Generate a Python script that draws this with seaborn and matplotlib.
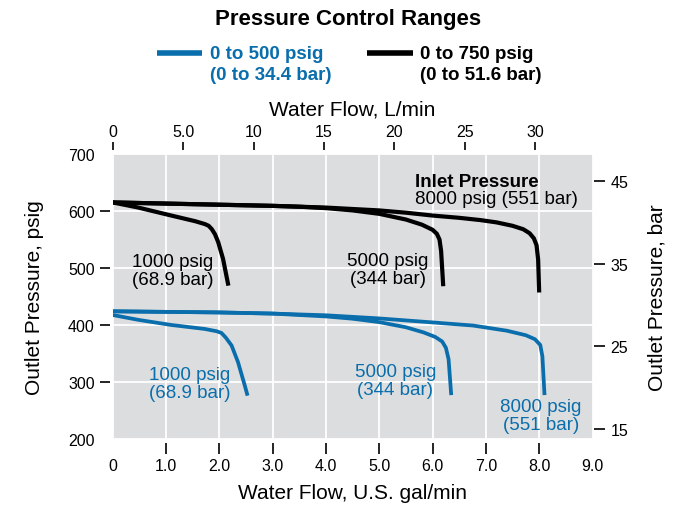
import numpy as np
import pandas as pd
import seaborn as sns
import matplotlib.pyplot as plt
from matplotlib.lines import Line2D

# curve data: water flow (gal/min) vs outlet pressure (psig)
blk_1000_x = [0, 0.48, 1.10, 1.55, 1.73, 1.80, 1.86, 1.92, 1.98, 2.07, 2.17]
blk_1000_y = [615, 606, 592, 582, 577, 574, 568, 559, 545, 516, 469]
blk_5000_x = [0, 1.0, 2.0, 3.0, 3.5, 4.0, 4.5, 5.0, 5.5, 5.8, 6.0, 6.08, 6.13, 6.16, 6.20]
blk_5000_y = [615, 613, 611, 609, 607.5, 605, 601, 595, 585, 576, 567, 560, 550, 530, 468]
blk_8000_x = [0, 1.0, 2.0, 3.0, 4.0, 5.0, 5.5, 6.0, 6.5, 6.9, 7.2, 7.5, 7.7, 7.82, 7.9, 7.95, 7.98, 8.0]
blk_8000_y = [615, 613, 611, 609, 606, 601, 597, 592, 588, 584, 580, 574, 568, 561, 552, 540, 515, 457]

blu_1000_x = [0, 0.48, 1.10, 1.73, 1.95, 2.04, 2.12, 2.23, 2.35, 2.48, 2.53]
blu_1000_y = [417.5, 409, 400, 393, 389, 386, 378, 364, 335, 293, 276]
blu_5000_x = [0, 1.0, 2.0, 3.0, 4.0, 4.5, 5.0, 5.5, 5.83, 6.05, 6.18, 6.25, 6.30, 6.35]
blu_5000_y = [424, 423, 422, 420, 415, 411, 405, 396, 387, 379, 371, 360, 340, 277]
blu_8000_x = [0, 1.0, 2.0, 3.0, 4.0, 5.0, 6.0, 6.76, 7.39, 7.75, 7.92, 8.02, 8.06, 8.10]
blu_8000_y = [424, 423, 422, 420, 417, 411.5, 404.5, 399, 390, 382, 375, 365, 345, 277]

ranges = ["0 to 500 psig\n(0 to 34.4 bar)", "0 to 750 psig\n(0 to 51.6 bar)"]
inlet_labels = ["1000 psig\n(68.9 bar)", "5000 psig\n(344 bar)", "8000 psig\n(551 bar)"]

rows = []
for rng, inlet, xs, ys in [
    (ranges[1], "1000", blk_1000_x, blk_1000_y),
    (ranges[1], "5000", blk_5000_x, blk_5000_y),
    (ranges[1], "8000", blk_8000_x, blk_8000_y),
    (ranges[0], "1000", blu_1000_x, blu_1000_y),
    (ranges[0], "5000", blu_5000_x, blu_5000_y),
    (ranges[0], "8000", blu_8000_x, blu_8000_y),
]:
    for x, y in zip(xs, ys):
        rows.append({"range": rng, "inlet": inlet, "gpm": x, "psig": y})
df = pd.DataFrame(rows)

BLUE = "#0a6eac"
GREY = "#dcdddf"

sns.set_theme(style="darkgrid", rc={
    "axes.facecolor": GREY,
    "grid.color": "white",
    "grid.linewidth": 1.3,
    "text.color": "black",
    "axes.labelcolor": "black",
    "xtick.color": "black",
    "ytick.color": "black",
})
plt.rcParams["font.family"] = ["Liberation Sans", "DejaVu Sans"]

fig = plt.figure(figsize=(6.88, 5.10), dpi=100)
ax = fig.add_axes([0.1638, 0.1373, 0.8612 - 0.1638, 0.6961 - 0.1373])

palette = {ranges[0]: BLUE, ranges[1]: "black"}
for rng, lw in [(ranges[1], 3.0), (ranges[0], 2.7)]:
    sub = df[df["range"] == rng]
    sns.lineplot(data=sub, x="gpm", y="psig", units="inlet", estimator=None,
                 sort=False, color=palette[rng], linewidth=lw, ax=ax,
                 solid_capstyle="butt", solid_joinstyle="round", legend=False)

ax.set_xlim(0, 9)
ax.set_ylim(200, 700)
ax.set_xticks(np.arange(0, 10, 1))
ax.set_xticklabels(["0"] + [f"{v:.1f}" for v in range(1, 10)])
ax.set_yticks(np.arange(200, 701, 100))
for s in ax.spines.values():
    s.set_visible(False)
ax.spines["bottom"].set_position(("outward", 3))
ax.spines["left"].set_position(("outward", 2))
ax.tick_params(axis="x", bottom=True, length=8, width=1.2, color="black",
               labelsize=11.5, pad=3, labelcolor="black")
ax.tick_params(axis="y", left=True, length=7.5, width=1.2, color="black",
               labelsize=11.5, pad=3.5, labelcolor="black")
xt = ax.xaxis.get_major_ticks()
xt[0].tick1line.set_visible(False)
xt[-1].tick1line.set_visible(False)
yt = ax.yaxis.get_major_ticks()
yt[0].tick1line.set_visible(False)
yt[-1].tick1line.set_visible(False)
ax.set_xlabel("Water Flow, U.S. gal/min", fontsize=15, labelpad=7)
ax.set_ylabel("Outlet Pressure, psig", fontsize=15, labelpad=17)

# secondary axes: L/min on top, bar on right
top = ax.secondary_xaxis("top", functions=(lambda g: g * 3.78541, lambda l: l / 3.78541))
top.set_xticks([0, 5, 10, 15, 20, 25, 30])
top.set_xticklabels(["0", "5.0", "10", "15", "20", "25", "30"])
top.tick_params(length=6, width=1.2, color="black", labelsize=11.5, pad=1.5, labelcolor="black")
top.xaxis.get_major_ticks()[0].tick2line.set_visible(False)
top.xaxis.get_major_ticks()[0].tick1line.set_visible(False)
for s in top.spines.values():
    s.set_visible(False)
top.spines["top"].set_position(("outward", 3))
top.set_xlabel("Water Flow, L/min", fontsize=15, labelpad=7)

right = ax.secondary_yaxis("right", functions=(lambda p: p / 14.5038, lambda b: b * 14.5038))
right.set_yticks([15, 25, 35, 45])
right.tick_params(length=8, width=1.2, color="black", labelsize=11.5, pad=4, labelcolor="black")
for s in right.spines.values():
    s.set_visible(False)
right.spines["right"].set_position(("outward", 1))
right.set_ylabel("Outlet Pressure, bar", fontsize=15, labelpad=14)

# curve annotations
ax.text(1.12, 495, inlet_labels[0], ha="center", va="center", fontsize=13.5, linespacing=1.1)
ax.text(5.16, 497, inlet_labels[1], ha="center", va="center", fontsize=13.5, linespacing=1.1)
ax.text(5.67, 636, "Inlet Pressure", ha="left", va="bottom", fontsize=13.5, fontweight="bold")
ax.text(5.67, 636, "8000 psig (551 bar)", ha="left", va="top", fontsize=13.5)
ax.text(1.45, 297, inlet_labels[0], ha="center", va="center", fontsize=13.5, color=BLUE, linespacing=1.1)
ax.text(5.30, 302, inlet_labels[1], ha="center", va="center", fontsize=13.5, color=BLUE, linespacing=1.1)
ax.text(8.03, 241, inlet_labels[2], ha="center", va="center", fontsize=13.5, color=BLUE, linespacing=1.1)

# title and legend (drawn in figure pixels)
W, H = 688, 510
fig.text(348 / W, 1 - 19 / H, "Pressure Control Ranges", ha="center", va="center",
         fontsize=16, fontweight="bold")
for (x0, x1, tx), c, lab in zip([(157, 202, 210), (367, 413, 420)], [BLUE, "black"], ranges):
    fig.add_artist(Line2D([x0 / W, x1 / W], [1 - 54 / H, 1 - 54 / H], color=c,
                          linewidth=4, solid_capstyle="butt", transform=fig.transFigure))
    fig.text(tx / W, 1 - 65 / H, lab, ha="left", va="center", color=c,
             fontsize=13.5, fontweight="bold", linespacing=1.3)

fig.savefig("out.png", dpi=100)
